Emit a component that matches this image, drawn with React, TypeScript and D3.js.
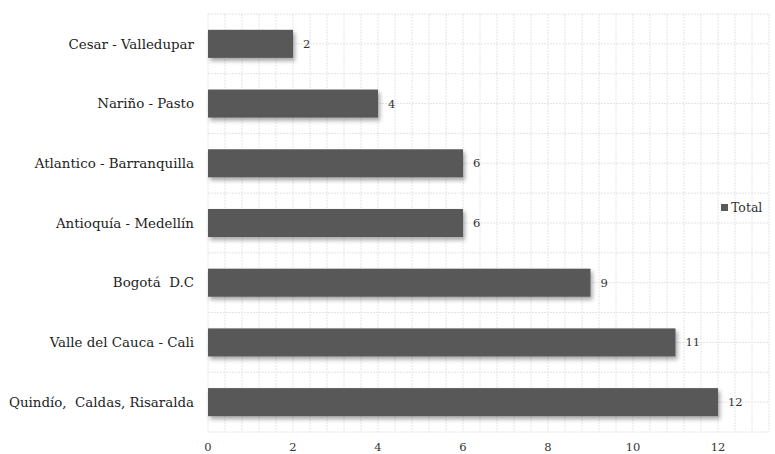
import React, { useEffect, useRef } from "react";
import * as d3 from "d3";

const categories = [
  "Cesar - Valledupar",
  "Nariño - Pasto",
  "Atlantico - Barranquilla",
  "Antioquía - Medellín",
  "Bogotá  D.C",
  "Valle del Cauca - Cali",
  "Quindío,  Caldas, Risaralda",
];
const totals = [2, 4, 6, 6, 9, 11, 12];
const xTicks = [0, 2, 4, 6, 8, 10, 12];
const seriesName = "Total";

const App: React.FC = () => {
  const svgRef = useRef<SVGSVGElement | null>(null);

  useEffect(() => {
    if (!svgRef.current) return;
    const width = 775;
    const height = 454;
    const margin = { top: 14, right: 6, bottom: 22, left: 208 };
    const font = "DejaVu Serif, serif";

    const svg = d3
      .select(svgRef.current)
      .attr("width", width)
      .attr("height", height)
      .attr("font-family", font);
    svg.selectAll("*").remove();

    // ombre des barres
    const defs = svg.append("defs");
    defs
      .append("filter")
      .attr("id", "shadow")
      .attr("x", "-10%")
      .attr("y", "-30%")
      .attr("width", "130%")
      .attr("height", "180%")
      .append("feDropShadow")
      .attr("dx", 2)
      .attr("dy", 3)
      .attr("stdDeviation", 2)
      .attr("flood-color", "#000")
      .attr("flood-opacity", 0.35);

    const x = d3
      .scaleLinear()
      .domain([0, 13.2])
      .range([margin.left, width - margin.right]);

    const y = d3
      .scaleBand<string>()
      .domain(categories)
      .range([margin.top, height - margin.bottom])
      .paddingInner(0.53)
      .paddingOuter(0.265);

    const top = margin.top;
    const bottom = height - margin.bottom;

    // grille verticale (mineure tous les 0.4)
    const vLines = d3.range(0, 13.2 + 0.001, 0.4);
    svg
      .append("g")
      .selectAll("line")
      .data(vLines)
      .enter()
      .append("line")
      .attr("x1", (d) => x(d))
      .attr("x2", (d) => x(d))
      .attr("y1", top)
      .attr("y2", bottom)
      .style("stroke", "#e4e4e4")
      .style("stroke-dasharray", "2 1")
      .style("stroke-width", 1);

    // grille horizontale (limites + milieux des bandes)
    const step = y.step();
    const hLines = d3.range(0, categories.length * 2 + 1).map((i) => top + (i * step) / 2);
    svg
      .append("g")
      .selectAll("line")
      .data(hLines)
      .enter()
      .append("line")
      .attr("x1", margin.left)
      .attr("x2", width - margin.right)
      .attr("y1", (d) => d)
      .attr("y2", (d) => d)
      .style("stroke", "#e4e4e4")
      .style("stroke-dasharray", "2 1")
      .style("stroke-width", 1);

    // barres
    svg
      .append("g")
      .selectAll("rect")
      .data(categories)
      .enter()
      .append("rect")
      .attr("x", x(0))
      .attr("y", (d) => y(d)!)
      .attr("width", (d, i) => x(totals[i]) - x(0))
      .attr("height", y.bandwidth())
      .attr("fill", "#595959")
      .attr("filter", "url(#shadow)");

    // étiquettes de valeurs
    svg
      .append("g")
      .selectAll("text")
      .data(categories)
      .enter()
      .append("text")
      .attr("x", (d, i) => x(totals[i]) + 10)
      .attr("y", (d) => y(d)! + y.bandwidth() / 2)
      .attr("dy", "0.35em")
      .attr("font-size", 11.5)
      .attr("fill", "#333")
      .text((d, i) => totals[i]);

    // noms des catégories
    svg
      .append("g")
      .selectAll("text")
      .data(categories)
      .enter()
      .append("text")
      .attr("x", margin.left - 14)
      .attr("y", (d) => y(d)! + y.bandwidth() / 2)
      .attr("dy", "0.35em")
      .attr("text-anchor", "end")
      .attr("font-size", 13.4)
      .attr("fill", "#222")
      .style("white-space", "pre")
      .text((d) => d);

    // axe X
    svg
      .append("g")
      .selectAll("text")
      .data(xTicks)
      .enter()
      .append("text")
      .attr("x", (d) => x(d))
      .attr("y", 447)
      .attr("dy", "0.35em")
      .attr("text-anchor", "middle")
      .attr("font-size", 11.5)
      .attr("fill", "#333")
      .text((d) => d);

    // légende
    const legend = svg.append("g").attr("transform", "translate(721, 208)");
    legend
      .append("rect")
      .attr("x", 0)
      .attr("y", -4)
      .attr("width", 7)
      .attr("height", 7)
      .attr("fill", "#595959");
    legend
      .append("text")
      .attr("x", 10)
      .attr("y", 0)
      .attr("dy", "0.35em")
      .attr("font-size", 12.5)
      .attr("fill", "#333")
      .text(seriesName);
  }, []);

  return (
    <div style={{ position: "absolute", left: 0, top: 0 }}>
      <svg ref={svgRef} style={{ display: "block" }}></svg>
    </div>
  );
};

export default App;
